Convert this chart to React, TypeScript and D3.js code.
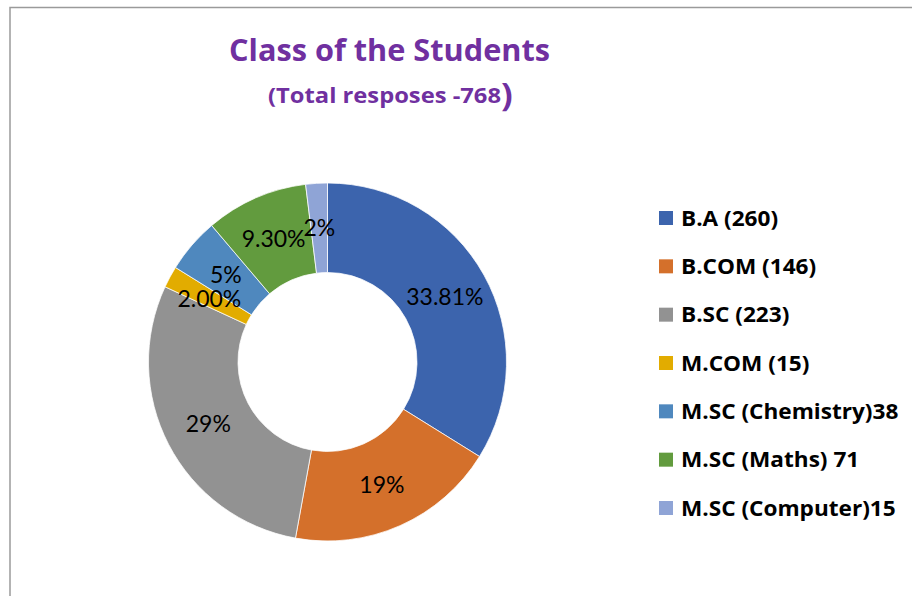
import React from "react";
import * as d3 from "d3";

const categories = ["B.A", "B.COM", "B.SC", "M.COM", "M.SC (Chemistry)", "M.SC (Maths)", "M.SC (Computer)"];
const counts = [260, 146, 223, 15, 38, 71, 15];
const sliceLabels = ["33.81%", "19%", "29%", "2.00%", "5%", "9.30%", "2%"];
const legendLabels = ["B.A (260)", "B.COM (146)", "B.SC (223)", "M.COM (15)", "M.SC (Chemistry)38", "M.SC (Maths) 71", "M.SC (Computer)15"];
const colors = ["#3C64AD", "#D4702B", "#929292", "#E2AC00", "#4F88BE", "#629B3E", "#8FA4D6"];
const titleText = "Class of the Students";
const subtitleText = "(Total resposes -768";

const W = 912;
const H = 596;
const cx = 327.5;
const cy = 362;
const outerR = 179;
const innerR = 89.5;

export default function App() {
  const pie = d3.pie<number>().sort(null).value((d) => d).startAngle(0).endAngle(2 * Math.PI);
  const arcs = pie(counts);
  const arc = d3.arc<d3.PieArcDatum<number>>().innerRadius(innerR).outerRadius(outerR);
  const legendY = d3.scaleLinear().domain([0, categories.length - 1]).range([218, 508]);
  const color = d3.scaleOrdinal<string, string>().domain(categories).range(colors);
  const bold = "'Open Sans', sans-serif";

  return (
    <div style={{ position: "fixed", left: 0, top: 0, width: W, height: H, background: "#fff" }}>
      <svg width={W} height={H} style={{ display: "block" }}>
        <rect x={0} y={0} width={W} height={H} fill="#ffffff" />
        <path d={`M10,${H + 5} L10,7.5 L${W + 5},7.5`} fill="none" stroke="#9a9a9a" strokeWidth={1.5} />
        <text x={229} y={61} textAnchor="start" fontFamily={bold} fontWeight="bold" fontSize={30} fill="#7030A0"
          textLength={321} lengthAdjust="spacingAndGlyphs">
          {titleText}
        </text>
        <g transform="translate(268,103) scale(1.08,1)">
          <text x={0} y={0} textAnchor="start" fontFamily={bold} fontWeight="bold" fill="#7030A0">
            <tspan fontSize={22}>{subtitleText}</tspan>
            <tspan fontSize={32} dy={3}>)</tspan>
          </text>
        </g>
        <g transform={`translate(${cx},${cy})`}>
          {arcs.map((a, i) => (
            <path key={categories[i]} d={arc(a) || ""} fill={color(categories[i])} stroke="#ffffff" strokeWidth={0.75} />
          ))}
          {arcs.map((a, i) => {
            const [x, y] = arc.centroid(a);
            return (
              <text key={"l" + i} x={x} y={y} dy="0.36em" textAnchor="middle" fontFamily="Lato" fontSize={23} fill="#000">
                {sliceLabels[i]}
              </text>
            );
          })}
        </g>
        <g>
          {categories.map((c, i) => (
            <g key={c} transform={`translate(0,${legendY(i)})`}>
              <rect x={659} y={-7} width={14} height={14} fill={color(c)} />
              <g transform="translate(681,0) scale(1.076,1)">
                <text x={0} y={0} dy="0.36em" fontFamily={bold} fontWeight="bold" fontSize={21} fill="#000">
                  {legendLabels[i]}
                </text>
              </g>
            </g>
          ))}
        </g>
      </svg>
    </div>
  );
}
